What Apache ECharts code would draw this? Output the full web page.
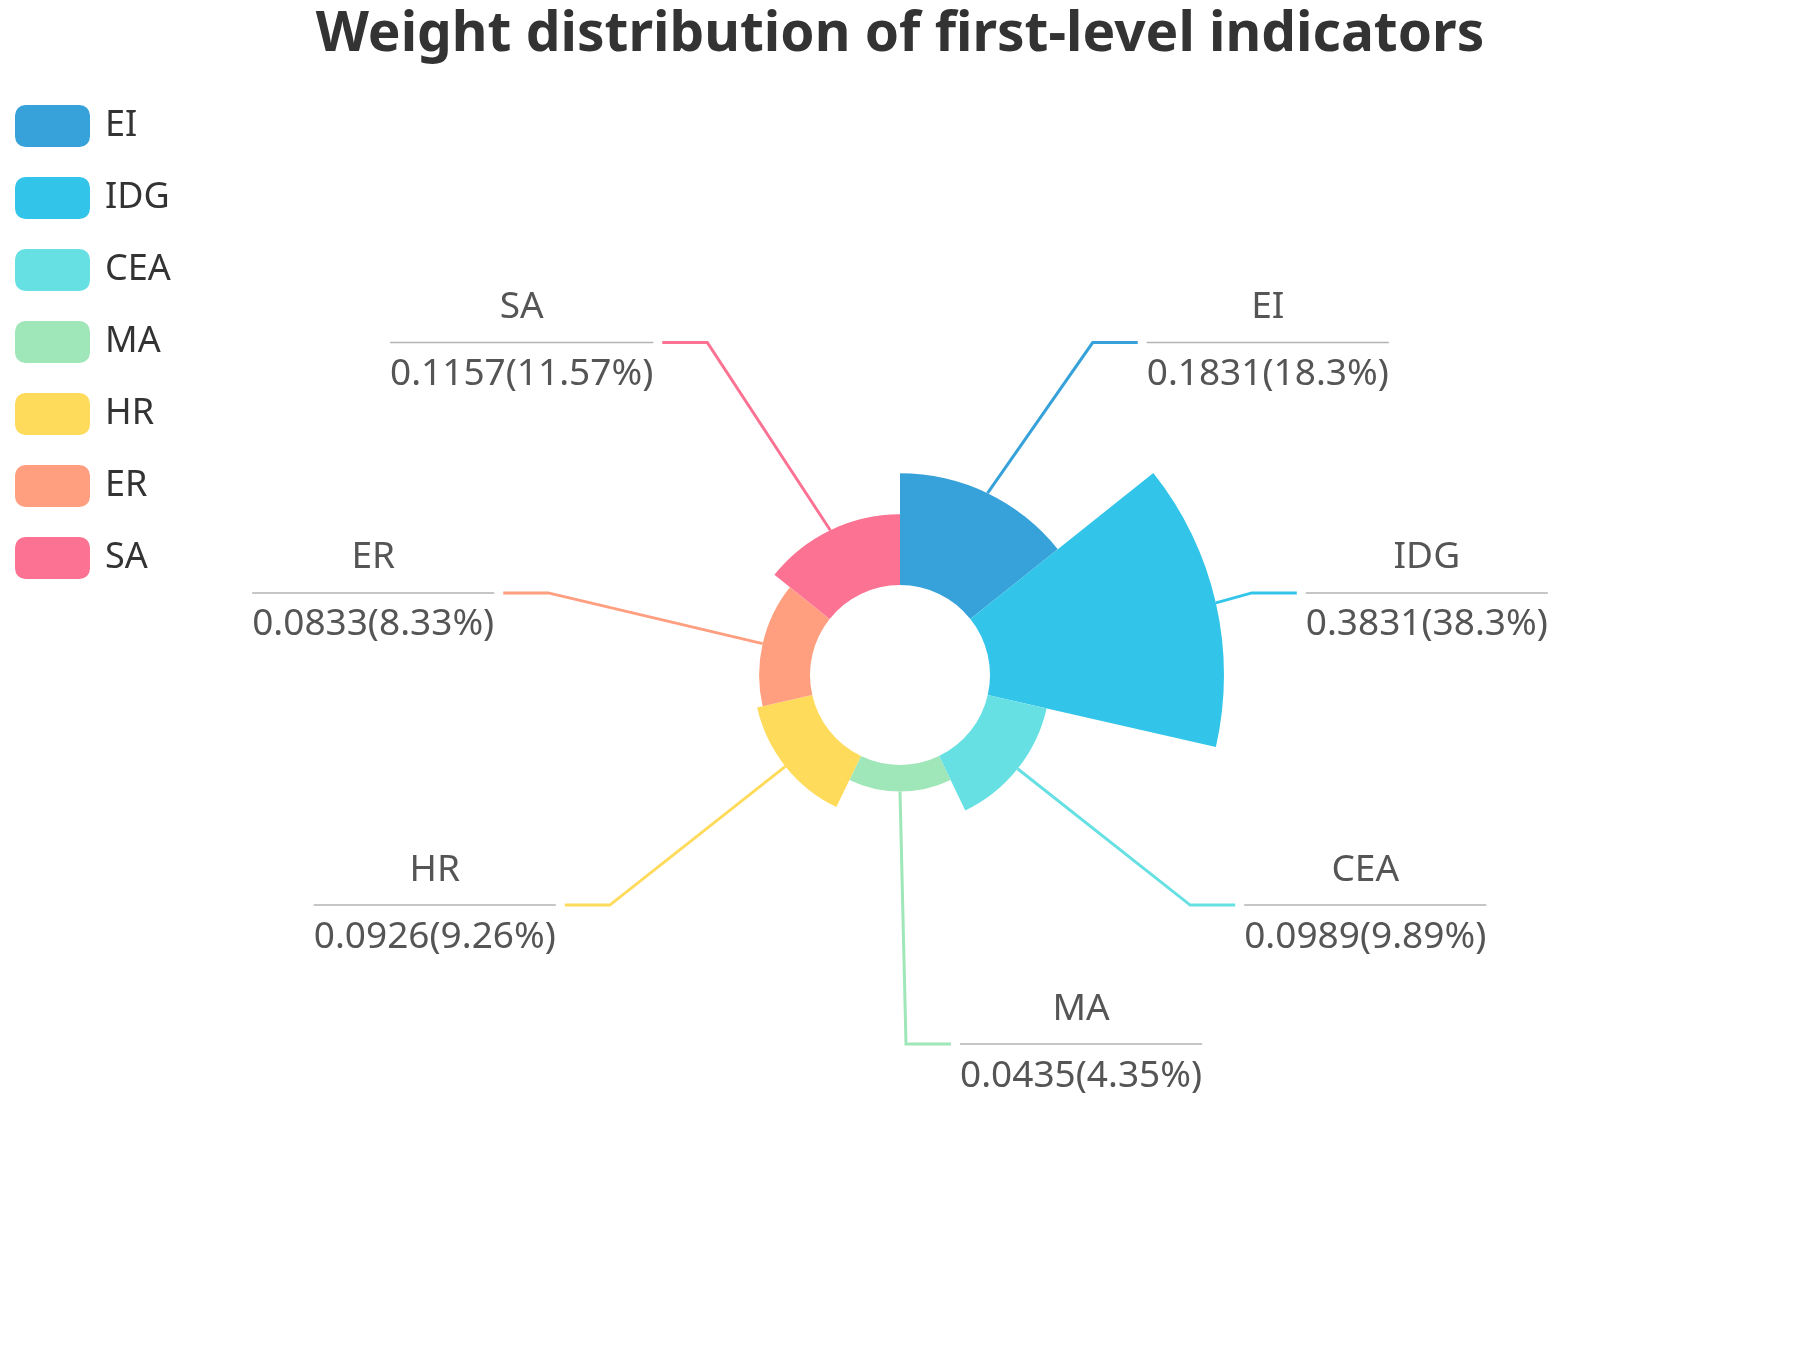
<!DOCTYPE html>
<html>
<head>
<meta charset="utf-8">
<title>Weight distribution of first-level indicators</title>
<script src="https://cdn.jsdelivr.net/npm/echarts@6/dist/echarts.min.js"></script>
<style>
  html, body { margin: 0; padding: 0; background: #fff; }
  #main { width: 1800px; height: 1350px; }
</style>
</head>
<body>
<div id="main"></div>
<script>
var names = ['EI', 'IDG', 'CEA', 'MA', 'HR', 'ER', 'SA'];
var weights = [0.1831, 0.3831, 0.0989, 0.0435, 0.0926, 0.0833, 0.1157];
var shares = ['18.3', '38.3', '9.89', '4.35', '9.26', '8.33', '11.57'];
var colors = ['#37a2da', '#32c5e9', '#67e0e3', '#9fe6b8', '#ffdb5c', '#ff9f7f', '#fb7293'];

var font = '"Noto Sans", "Open Sans", sans-serif';
var chart = echarts.init(document.getElementById('main'));

var outerR = 324, lineLen = 45, lineLen2 = 45, textGap = 9;

// put label ends on a circle of radius r + length + length2, like the old pie layout did
function placeLabel(params) {
  var p = params.labelLinePoints;
  if (!p) return {};
  var cx = chart.getWidth() / 2, cy = chart.getHeight() / 2;
  var R = outerR + lineLen + lineLen2;
  var dir = p[2][0] >= p[1][0] ? 1 : -1;
  var y = p[2][1];
  var dy = Math.abs(y - cy);
  var dx = dy < outerR + lineLen - 1 ? Math.sqrt(R * R - dy * dy) : Math.abs(p[2][0] - cx) + 15;
  var tx = cx + dir * dx;
  var end = tx - dir * textGap;
  return {
    x: tx,
    y: y,
    labelLinePoints: [p[0], [end - dir * lineLen2, y], [end, y]]
  };
}

var option = {
  color: colors,
  textStyle: { fontFamily: font },
  title: {
    text: 'Weight distribution of first-level indicators',
    left: 'center',
    top: 8,
    padding: 0,
    textStyle: { fontSize: 55, fontWeight: 'bold', color: '#333', fontFamily: font }
  },
  legend: {
    orient: 'vertical',
    left: 15,
    top: 105,
    padding: 0,
    icon: 'roundRect',
    itemWidth: 75,
    itemHeight: 42,
    itemGap: 30,
    textStyle: { fontSize: 36, color: '#333', fontFamily: font, padding: [0, 0, 0, 10] },
    data: names
  },
  series: [{
    type: 'pie',
    roseType: 'area',
    center: ['50%', '50%'],
    radius: [90, outerR],
    label: {
      distanceToLabelLine: textGap,
      formatter: function (p) {
        return '{b|' + p.name + '}\n{hr|}\n{c|' + p.value + '(' + shares[p.dataIndex] + '%)}';
      },
      rich: {
        b: { fontSize: 37, color: '#555', align: 'center', padding: [0, 0, 16.5, 0], fontFamily: font },
        hr: { borderColor: '#b4b4b4', width: '100%', borderWidth: 1.5, height: 0 },
        c: { fontSize: 37, color: '#555', padding: [13.5, 0, 3, 0], fontFamily: font }
      }
    },
    labelLine: {
      length: lineLen,
      length2: lineLen2,
      lineStyle: { width: 3 }
    },
    labelLayout: placeLabel,
    data: names.map(function (n, i) {
      return { name: n, value: weights[i] };
    })
  }]
};

chart.setOption(option);
</script>
</body>
</html>
